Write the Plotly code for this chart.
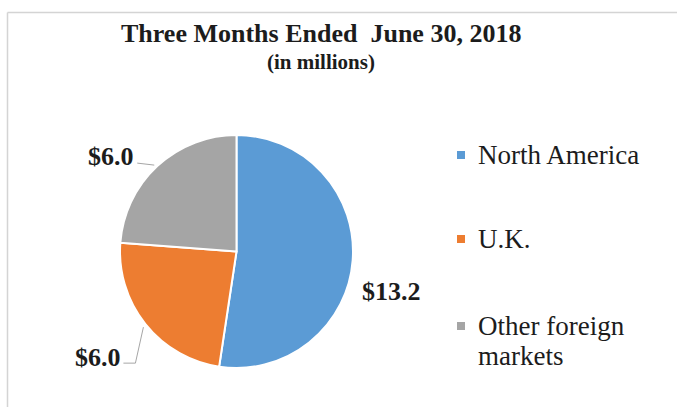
import math
import plotly.graph_objects as go

# Revenue by region, three months ended June 30, 2018 (in millions)
regions = ["North America", "U.K.", "Other foreign markets"]
revenue = [13.2, 6.0, 6.0]
legend_labels = ["North America", "U.K.", "Other foreign<br>markets"]
colors = ["#5B9BD5", "#ED7D31", "#A5A5A5"]

title_text = "Three Months Ended\u00a0 June 30, 2018"
subtitle_text = "(in millions)"

W, H = 677, 407
SERIF = "Liberation Serif, Times New Roman, serif"
INK = "#1c1c1c"

# pie placement in pixels
cx, cy, r = 236.5, 251.5, 116.5


def px(x):
    return x / W


def py(y):
    return 1 - y / H


fig = go.Figure(
    go.Pie(
        labels=regions,
        values=revenue,
        sort=False,
        direction="clockwise",
        rotation=0,
        marker=dict(colors=colors, line=dict(color="white", width=2)),
        textinfo="none",
        hoverinfo="label+value",
        showlegend=False,
        domain=dict(x=[px(cx - r), px(cx + r)], y=[py(cy + r), py(cy - r)]),
    )
)

# outer edge point at the middle of each slice
total = sum(revenue)
edges = []
acc = 0.0
for v in revenue:
    mid = (acc + v / 2) / total * 2 * math.pi
    edges.append((cx + r * math.sin(mid), cy - r * math.cos(mid)))
    acc += v

annotations = []
shapes = []

# value labels, with leader lines for the small slices
label_offsets = [(39, 31), (-47.5, 33), (-46, -10)]
leaders = [None, [(-2, 3), (-10, 39), (-22, 39)], [(-3, -1), (-20, -3)]]
for (ex, ey), v, (dx, dy), lead in zip(edges, revenue, label_offsets, leaders):
    annotations.append(dict(
        x=px(ex + dx), y=py(ey + dy), xref="paper", yref="paper",
        text=f"<b>${v:.1f}</b>", showarrow=False,
        xanchor="center", yanchor="middle",
        font=dict(family=SERIF, size=26, color=INK),
    ))
    if lead:
        path = " L ".join(f"{px(ex + a):.5f},{py(ey + b):.5f}" for a, b in lead)
        shapes.append(dict(type="path", xref="paper", yref="paper",
                           path="M " + path,
                           line=dict(color="#a6a6a6", width=1)))

# titles
annotations.append(dict(
    x=px(321), y=py(33), xref="paper", yref="paper",
    text=f"<b>{title_text}</b>", showarrow=False,
    xanchor="center", yanchor="middle",
    font=dict(family=SERIF, size=26, color=INK),
))
annotations.append(dict(
    x=px(321), y=py(62), xref="paper", yref="paper",
    text=f"<b>{subtitle_text}</b>", showarrow=False,
    xanchor="center", yanchor="middle",
    font=dict(family=SERIF, size=21, color=INK),
))

# legend
legend_rows = [155, 239, 326]
for lab, col, yc in zip(legend_labels, colors, legend_rows):
    shapes.append(dict(type="rect", xref="paper", yref="paper",
                       x0=px(457), x1=px(465), y0=py(yc + 4), y1=py(yc - 4),
                       fillcolor=col, line=dict(width=0)))
    for i, line in enumerate(lab.split("<br>")):
        annotations.append(dict(
            x=px(476), y=py(yc + 30 * i), xref="paper", yref="paper",
            text=line, showarrow=False,
            xanchor="left", yanchor="middle",
            font=dict(family=SERIF, size=27, color=INK),
        ))

# chart frame
shapes.append(dict(type="line", xref="paper", yref="paper",
                   x0=px(7.5), x1=1, y0=py(12.5), y1=py(12.5),
                   line=dict(color="#d4d4d4", width=1.5)))
shapes.append(dict(type="line", xref="paper", yref="paper",
                   x0=px(7.5), x1=px(7.5), y0=0, y1=py(12.5),
                   line=dict(color="#d4d4d4", width=1.5)))

fig.update_layout(
    width=W, height=H,
    margin=dict(l=0, r=0, t=0, b=0),
    paper_bgcolor="white",
    plot_bgcolor="white",
    annotations=annotations,
    shapes=shapes,
)

fig.write_html("out.html")
